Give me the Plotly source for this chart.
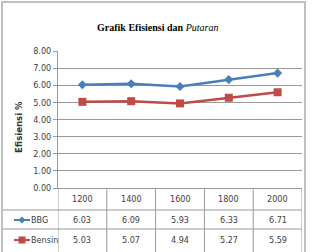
import plotly.graph_objects as go

categories = ["1200", "1400", "1600", "1800", "2000"]
bbg = [6.03, 6.09, 5.93, 6.33, 6.71]
bensin = [5.03, 5.07, 4.94, 5.27, 5.59]
y_ticks = [0, 1, 2, 3, 4, 5, 6, 7, 8]
series = [("BBG", bbg, "#4A7EBB", "diamond", 7), ("Bensin", bensin, "#BE4B48", "square", 8)]

W, H = 314, 252
ML, MR, MT, MB = 58, 12, 51, 64
PW, PH = W - ML - MR, H - MT - MB

def py(p):  # pixel y -> paper y
    return (H - MB - p) / PH

def px(p):  # pixel x -> paper x
    return (p - ML) / PW

NUMFONT = "Liberation Sans Narrow, Arial Narrow, DejaVu Sans Condensed, sans-serif"

fig = go.Figure()
for name, vals, col, sym, ms in series:
    fig.add_trace(go.Scatter(x=categories, y=vals, mode="lines+markers", name=name,
                             line=dict(color=col, width=2.5),
                             marker=dict(symbol=sym, size=ms, color=col),
                             showlegend=False, cliponaxis=False))

shapes = []
annotations = []
grid = "#999999"
row_lines = [210, 229]
row_centers = [199, 220, 240]
for k in range(len(categories) + 1):
    shapes.append(dict(type="line", xref="x", yref="paper", x0=k - 0.5, x1=k - 0.5,
                       y0=py(188), y1=py(252), line=dict(color=grid, width=1)))
for rl in row_lines:
    shapes.append(dict(type="line", xref="paper", yref="paper", x0=px(3), x1=px(302),
                       y0=py(rl), y1=py(rl), line=dict(color=grid, width=1)))
shapes.append(dict(type="rect", xref="paper", yref="paper", x0=px(2), x1=px(305),
                   y0=py(258), y1=py(2), line=dict(color="#BFBFBF", width=2)))

def ann(x, y, text, xref="paper", xanchor="center", **kw):
    d = dict(x=x, y=y, xref=xref, yref="paper", text=text, showarrow=False,
             xanchor=xanchor, yanchor="middle",
             font=dict(size=9, family=NUMFONT, color="#404040"))
    d.update(kw)
    return d

for i, c in enumerate(categories):
    annotations.append(ann(i, py(row_centers[0]), c, xref="x"))
for r, (name, vals, col, sym, ms) in enumerate(series):
    yc = py(row_centers[r + 1])
    for i, v in enumerate(vals):
        annotations.append(ann(i, yc, f"{v:.2f}", xref="x"))
    annotations.append(ann(px(29), yc, name, xanchor="left"))
    shapes.append(dict(type="line", xref="paper", yref="paper", x0=px(14), x1=px(30),
                       y0=yc, y1=yc, line=dict(color=col, width=2)))
    if sym == "square":
        shapes.append(dict(type="rect", xref="paper", yref="paper", xsizemode="pixel", ysizemode="pixel",
                           xanchor=px(22), yanchor=yc, x0=-3.5, x1=3.5, y0=-3.5, y1=3.5,
                           fillcolor=col, line=dict(width=0)))
    else:
        shapes.append(dict(type="path", xref="paper", yref="paper", xsizemode="pixel", ysizemode="pixel",
                           xanchor=px(22), yanchor=yc, path="M-3.5,0 L0,3.5 L3.5,0 L0,-3.5 Z",
                           fillcolor=col, line=dict(width=0)))

annotations.append(ann(px(157), py(27), "<b>Grafik Efisiensi dan </b><i>Putaran</i>",
                       font=dict(size=10, family="Times New Roman, Liberation Serif, serif", color="#000000")))
annotations.append(ann(px(18), py(127), "<b>Efisiensi %</b>", textangle=-90,
                       font=dict(size=9.5, family="DejaVu Sans Condensed, sans-serif", color="#333333")))

fig.update_layout(
    width=W, height=H, margin=dict(l=ML, r=MR, t=MT, b=MB),
    paper_bgcolor="white", plot_bgcolor="white",
    xaxis=dict(type="category", range=[-0.5, len(categories) - 0.5], showticklabels=False,
               showgrid=False, zeroline=False, showline=True, linecolor=grid, linewidth=1,
               ticks=""),
    yaxis=dict(range=[0, 8], tickvals=y_ticks, ticktext=[f"{v:.2f}" for v in y_ticks],
               showgrid=True, gridcolor=grid, gridwidth=1, zeroline=False,
               showline=True, linecolor=grid, ticks="outside", ticklen=4, tickcolor=grid,
               tickfont=dict(size=9, family=NUMFONT, color="#404040")),
    shapes=shapes, annotations=annotations,
)
fig.write_html("out.html")
